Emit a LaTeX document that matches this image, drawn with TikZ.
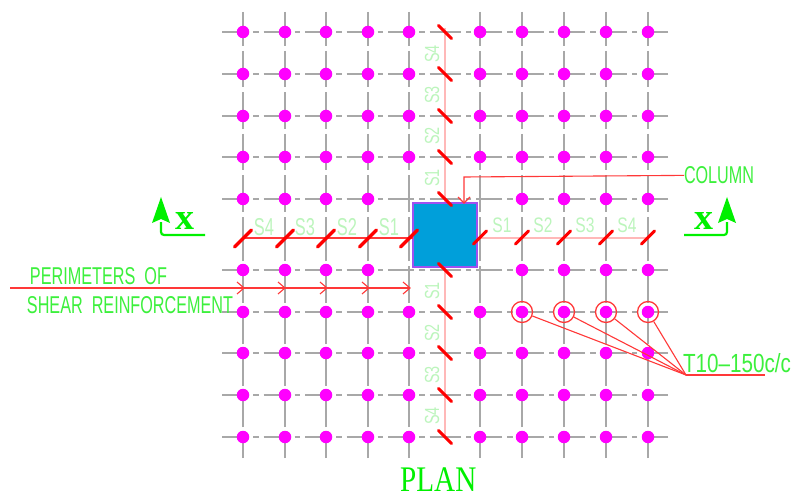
\documentclass[tikz,border=0pt]{standalone}
\usepackage{fontspec}
\usepackage{graphicx}
\setmainfont{Liberation Serif}
\newfontfamily\cadfont{Liberation Sans}
\definecolor{cadgreen}{HTML}{3CF03C}
\definecolor{pale}{HTML}{BCF5BC}
\definecolor{purebgreen}{HTML}{00F000}
\definecolor{gridgray}{HTML}{A8A8A8}
\definecolor{dotmag}{HTML}{FF00FF}
\definecolor{cadred}{HTML}{FF3838}
\definecolor{palered}{HTML}{FFB8B8}
\definecolor{colblue}{HTML}{009FDA}
\definecolor{colborder}{HTML}{A050F0}
\newcommand{\cadtext}[3]{\resizebox{#1pt}{#2pt}{\cadfont #3}}
\newcommand{\slab}[3]{\scalebox{#1}[#2]{\cadfont\fontsize{20}{20}\selectfont #3}}
\tikzset{
  gridv/.style={gridgray,line width=1.7pt,dash pattern=on 36.5pt off 5pt},
  gridh/.style={gridgray,line width=1.7pt,dash pattern=on 26pt off 5pt on 5.5pt off 5pt},
  dotnode/.style={circle,fill=dotmag,draw=none,minimum size=12.5pt,inner sep=0pt},
  ringnode/.style={circle,draw=cadred,line width=1.3pt,minimum size=21pt,inner sep=0pt},
  tickline/.style={red,line width=2.9pt,line cap=round},
  leader/.style={cadred,line width=1.1pt},
  paleline/.style={palered,line width=1.1pt},
  txt/.style={inner sep=0pt,outer sep=0pt,anchor=south west,cadgreen},
  slabel/.style={inner sep=0pt,outer sep=0pt,anchor=center,pale},
  markline/.style={purebgreen,line width=2.2pt,rounded corners=3pt},
  markhead/.style={purebgreen,fill=purebgreen,draw=none},
}
\begin{document}
\begin{tikzpicture}[x=1pt,y=-1pt]
\useasboundingbox (0,0) rectangle (792,497);
\fill[white] (0,0) rectangle (792,497);
% grid
\foreach \c in {243,285,326,368,409,480,522,564,606,648}{
  \draw[gridv,dash phase=2.5pt] (\c,12) -- (\c,235);
  \draw[gridv,dash phase=10.5pt] (\c,458) -- (\c,235);
}
\foreach \r in {32,74,116,157,199,270,312,353,395,437}{
  \draw[gridh] (222,\r) -- (445,\r);
  \draw[gridh] (668,\r) -- (445,\r);
}
% pale reinforcement lines
\draw[paleline] (445,28) -- (445,203);
\draw[paleline] (445,266) -- (445,437);
\draw[paleline] (477,238) -- (648,238);
% dots
\foreach \r in {32,74,116,157,199,270,312,353,395,437}{
  \foreach \c in {243,285,326,368,409,480,522,564,606,648}{
    \pgfmathtruncatemacro{\skip}{((\c==409||\c==480)&&(\r==199||\r==270))?1:0}
    \ifnum\skip=0
      \node[dotnode] (d-\c-\r) at (\c,\r) {};
    \fi
  }
}
% column
\node[draw=colborder,fill=colblue,line width=1.2pt,minimum size=64pt,inner sep=0pt,outer sep=0pt] (col) at (445,235) {};
% red left line
\draw[leader] (243,238) -- (col.west |- 243,238);
% ticks
\foreach \r in {32,74,116,157,199,270,312,353,395,437}{
  \draw[tickline] (438.5,\r-6.5) -- (451.5,\r+6.5);
}
\foreach \c in {243,285,326,368,409}{
  \draw[tickline,line width=3.4pt] (\c-8.5,247) -- (\c+8.5,230);
}
\foreach \c in {480,522,564,606,648}{
  \draw[tickline] (\c-6.5,244) -- (\c+6.5,231);
}
% S labels
\foreach \t/\y in {S4/54,S3/95,S2/136,S1/178,S1/291,S2/333,S3/375,S4/416}{
  \node[slabel,rotate=90] at (432,\y) {\slab{.72}{1.02}{\t}};
}
\foreach \t/\x in {S4/264,S3/305,S2/347,S1/389}{
  \node[slabel] at (\x,227) {\slab{.82}{1.22}{\t}};
}
\foreach \t/\x in {S1/502,S2/543,S3/585,S4/627}{
  \node[slabel] at (\x,225) {\slab{.78}{1.05}{\t}};
}
% perimeters
\coordinate (pstart) at (10,288);
\coordinate (p5) at (410,288);
\draw[leader] (pstart) -- (p5);
\foreach \x in {244,285,327,369,410}{
  \draw[leader] (\x-7,282) -- (\x,288) -- (\x-7,294);
}
\node[txt] (perim) at (30,285) {\cadtext{137}{17}{PERIMETERS\ \ OF}};
\node[txt] (shear) at (27,314) {\cadtext{206}{17}{SHEAR\ \ REINFORCEMENT}};
% column label
\node[txt] (collabel) at (684,184) {\cadtext{70}{17}{COLUMN}};
\coordinate (colbend) at (464,177);
\coordinate (coltip) at (464,203);
\draw[leader] (collabel.west) -- (colbend) -- (coltip);
\draw[leader] (458,197) -- (coltip) -- (470,197);
% section markers
\draw[markline] (161,222) -- (161,235) -- (205,235);
\fill[markhead] (161,197) -- (170,223) -- (161,219) -- (152,223) -- cycle;
\node[inner sep=0pt,anchor=center,purebgreen] (xl) at (185,220.5) {\resizebox{19pt}{17pt}{\bfseries x}};
\draw[markline] (727,222) -- (727,235) -- (684,235);
\fill[markhead] (727,197) -- (736,223) -- (727,219) -- (718,223) -- cycle;
\node[inner sep=0pt,anchor=center,purebgreen] (xr) at (703.5,220.5) {\resizebox{19pt}{17pt}{\bfseries x}};
% rings and leaders
\coordinate (tee) at (686,375);
\coordinate (teeend) at (765,375);
\foreach \c in {522,564,606,648}{
  \node[ringnode] (ring-\c) at (\c,312) {};
  \draw[leader] (ring-\c) -- (tee);
}
\draw[leader] (tee) -- (teeend);
\node[txt] (t10) at (683,373) {\cadtext{108}{19}{T10\textendash 150c/c}};
% title
\node[inner sep=0pt,anchor=base west,purebgreen] (plan) at (400,491) {\scalebox{.81}[1]{\fontsize{36}{36}\selectfont PLAN}};
\end{tikzpicture}
\end{document}
